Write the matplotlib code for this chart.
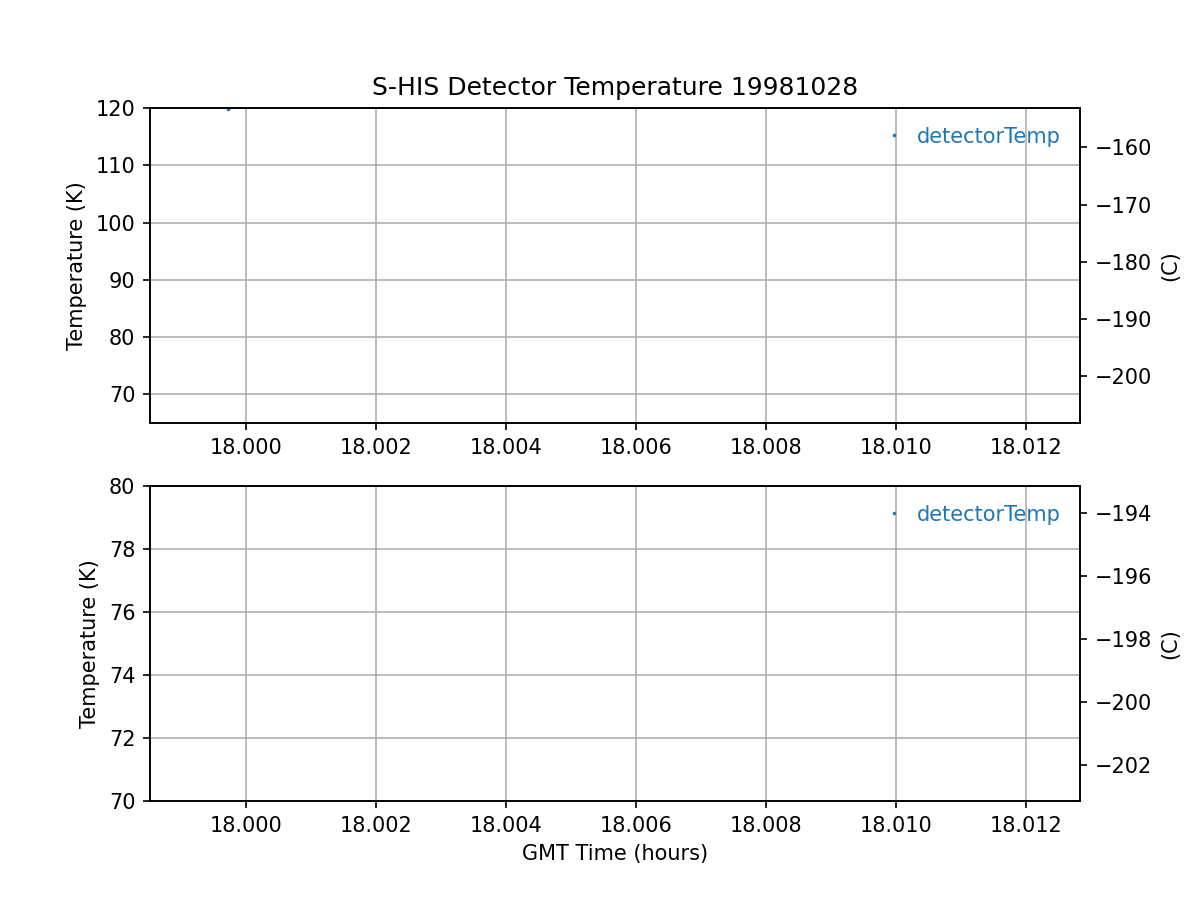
import matplotlib
matplotlib.use('Agg')
import matplotlib.pyplot as plt
import numpy as np

# detector temperature samples (GMT hours, Kelvin)
gmt_hours = [17.99972]
detector_temp = [119.9]

title = 'S-HIS Detector Temperature 19981028'
xlim = (17.99852, 18.01283)
top_ylim = (65, 120)
bottom_ylim = (70, 80)

fig, axes = plt.subplots(2, 1, figsize=(8, 6), dpi=150)

for ax, ylim in zip(axes, (top_ylim, bottom_ylim)):
    ax.plot(gmt_hours, detector_temp, '.', markersize=1.5, label='detectorTemp')
    ax.set_xlim(xlim)
    ax.set_ylim(ylim)
    ax.set_ylabel('Temperature (K)')
    ax.grid(True)
    ax.xaxis.set_major_formatter(matplotlib.ticker.FormatStrFormatter('%.3f'))
    ax.legend(loc='upper right', frameon=False, labelcolor='linecolor',
              handlelength=0.6)
    # Celsius on the right
    ax2 = ax.twinx()
    ax2.set_ylim(ylim[0] - 273.15, ylim[1] - 273.15)
    ax2.set_ylabel('(C)')

axes[0].set_title(title)
axes[1].set_xlabel('GMT Time (hours)')

fig.savefig('out.png')
